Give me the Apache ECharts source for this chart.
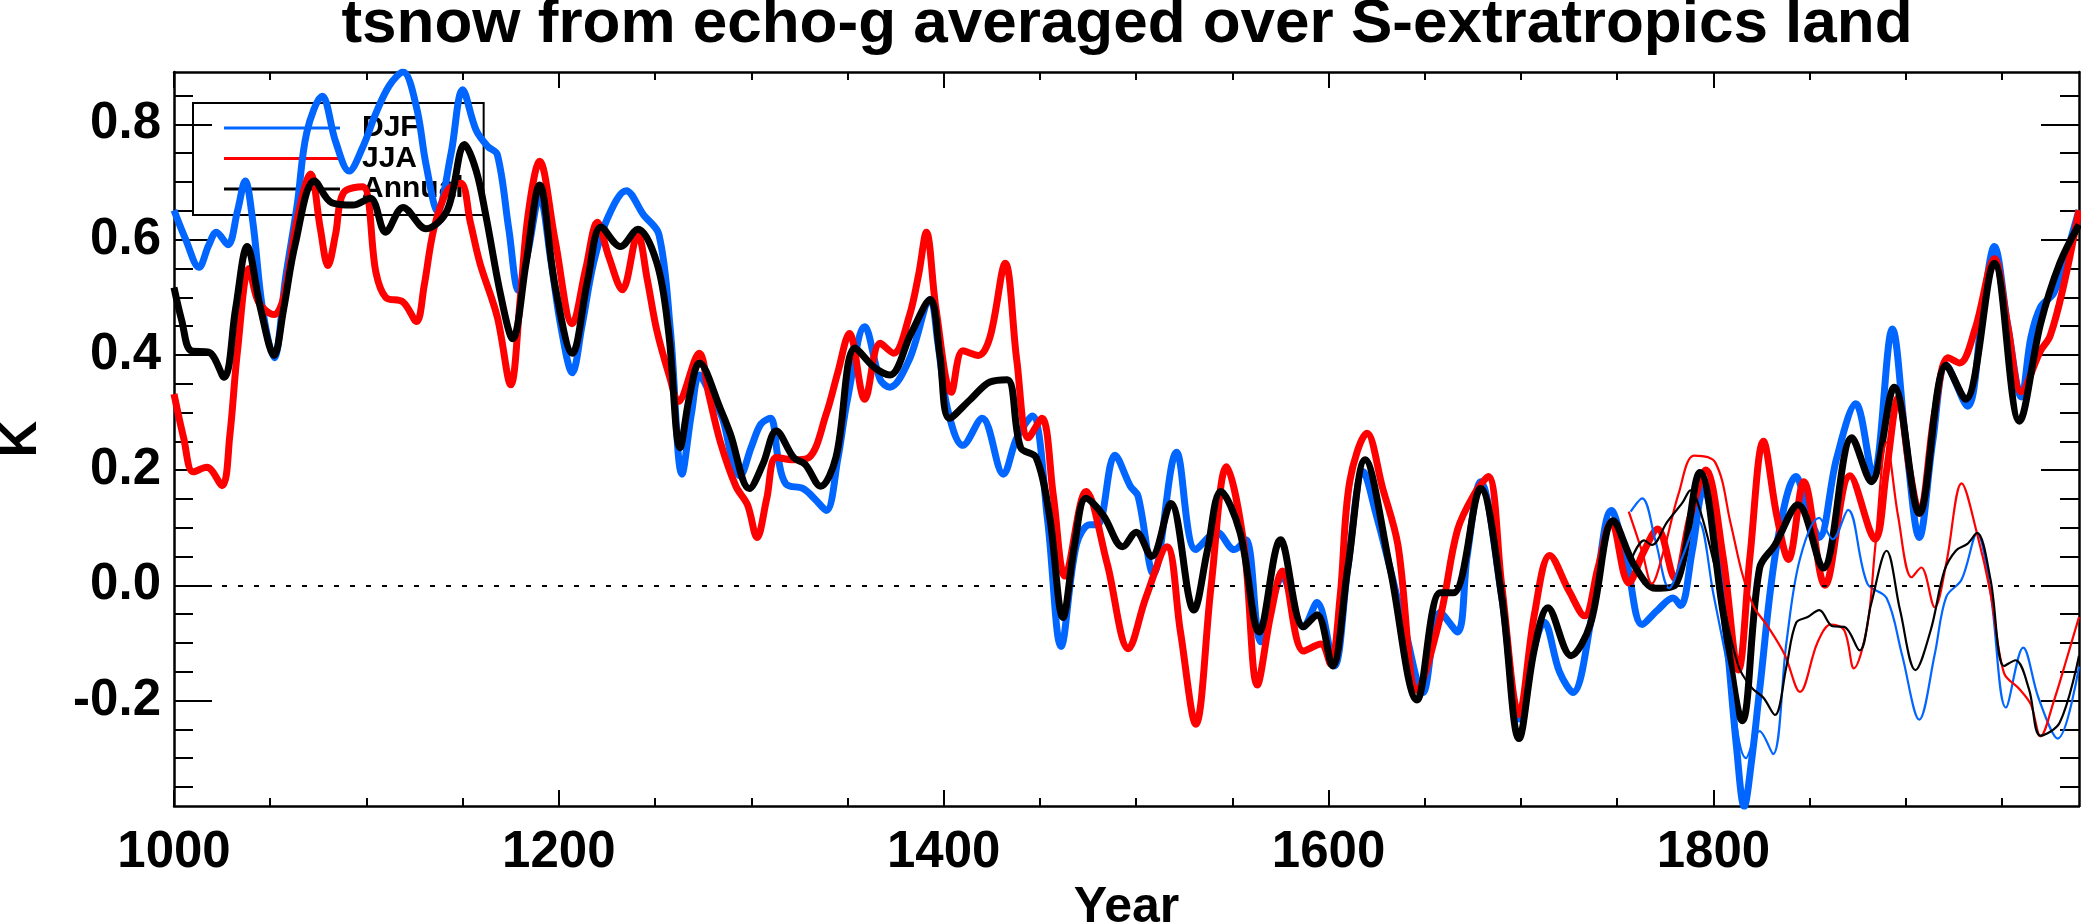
<!DOCTYPE html>
<html>
<head>
<meta charset="utf-8">
<script src="https://cdn.jsdelivr.net/npm/echarts@6/dist/echarts.min.js"></script>
<style>
html,body{margin:0;padding:0;background:#fff;}
#chart{width:2081px;height:924px;}
</style>
</head>
<body>
<div id="chart"></div>
<script>
// ---- data ----
const djfYears = [1000,1006,1013,1018,1022,1028,1033,1037,1041,1046,1052,1058,1064,1069,1077,1084,1091,1098,1105,1112,1119,1126,1131,1137,1144,1150,1157,1163,1168,1174,1179,1184,1190,1196,1201,1207,1212,1218,1225,1235,1244,1252,1258,1264,1269,1273,1279,1285,1290,1294,1300,1305,1310,1314,1318,1327,1333,1339,1345,1350,1359,1367,1372,1382,1393,1397,1402,1410,1420,1431,1438,1446,1454,1461,1469,1476,1480,1489,1497,1501,1509,1521,1531,1542,1551,1557,1565,1576,1587,1594,1603,1610,1618,1625,1632,1640,1649,1658,1667,1672,1679,1690,1699,1706,1712,1720,1727,1737,1747,1755,1763,1771,1779,1783,1789,1795,1800,1807,1812,1816,1820,1824,1833,1843,1849,1855,1864,1874,1883,1893,1900,1907,1914,1921,1932,1940,1946,1953,1960,1965,1970,1977,1983,1990];
const djfValues = [0.651,0.601,0.552,0.59,0.613,0.591,0.65,0.702,0.63,0.48,0.395,0.534,0.66,0.786,0.849,0.77,0.719,0.76,0.82,0.868,0.891,0.83,0.73,0.65,0.75,0.860,0.79,0.762,0.748,0.618,0.512,0.58,0.675,0.56,0.45,0.369,0.45,0.559,0.635,0.685,0.643,0.609,0.441,0.193,0.30,0.365,0.33,0.290,0.22,0.19,0.24,0.28,0.290,0.22,0.176,0.168,0.15,0.130,0.22,0.323,0.449,0.357,0.344,0.391,0.496,0.42,0.306,0.243,0.290,0.193,0.256,0.294,0.113,-0.106,0.071,0.105,0.105,0.226,0.172,0.155,0.020,0.231,0.062,0.092,0.062,0.079,-0.098,0.012,-0.072,-0.030,-0.140,0.03,0.197,0.12,0.029,-0.08,-0.186,-0.047,-0.081,0.05,0.180,-0.02,-0.232,-0.12,-0.064,-0.15,-0.186,-0.05,0.130,0.04,-0.068,-0.043,-0.022,-0.035,0.06,0.168,0.105,-0.098,-0.28,-0.384,-0.30,-0.182,0.071,0.189,0.13,0.083,0.22,0.315,0.189,0.445,0.25,0.083,0.25,0.382,0.311,0.48,0.588,0.45,0.327,0.43,0.483,0.508,0.57,0.651];

const jjaYears = [1000,1005,1010,1017,1025,1029,1033,1039,1044,1052,1057,1064,1071,1076,1080,1084,1088,1098,1105,1110,1119,1126,1130,1135,1142,1149,1154,1159,1168,1175,1180,1184,1190,1198,1207,1214,1220,1226,1233,1241,1246,1251,1258,1262,1273,1278,1284,1292,1298,1303,1308,1313,1322,1330,1339,1345,1351,1359,1367,1374,1382,1387,1391,1396,1404,1410,1418,1424,1432,1438,1444,1451,1457,1463,1474,1485,1496,1505,1516,1523,1531,1539,1547,1556,1563,1570,1576,1587,1596,1601,1606,1611,1620,1628,1636,1646,1658,1667,1676,1683,1690,1699,1707,1715,1725,1733,1740,1747,1756,1764,1771,1780,1788,1796,1805,1813,1819,1826,1833,1839,1847,1858,1871,1884,1890,1896,1902,1907,1915,1922,1928,1936,1946,1953,1960,1970,1975,1982,1990];
const jjaValues = [0.332,0.256,0.197,0.205,0.173,0.26,0.407,0.550,0.491,0.470,0.50,0.635,0.714,0.62,0.555,0.61,0.681,0.692,0.542,0.500,0.492,0.458,0.52,0.618,0.685,0.698,0.63,0.559,0.466,0.348,0.50,0.643,0.736,0.60,0.454,0.55,0.630,0.57,0.513,0.609,0.53,0.441,0.357,0.319,0.403,0.33,0.248,0.172,0.14,0.083,0.15,0.222,0.218,0.222,0.298,0.37,0.437,0.323,0.420,0.403,0.466,0.54,0.613,0.48,0.335,0.407,0.399,0.43,0.559,0.390,0.256,0.290,0.155,0.016,0.163,0.037,-0.110,-0.022,0.067,-0.08,-0.241,0.0,0.206,0.071,-0.173,-0.05,0.025,-0.114,-0.102,-0.136,-0.02,0.18,0.264,0.17,0.071,-0.182,-0.056,0.096,0.16,0.189,0.0,-0.224,-0.05,0.052,-0.01,-0.053,0.03,0.11,0.004,0.06,0.098,0.012,0.12,0.2,0.05,-0.147,0.05,0.25,0.12,0.045,0.18,0.0,0.19,0.08,0.2,0.325,0.2,0.125,0.3,0.395,0.386,0.445,0.567,0.45,0.336,0.407,0.433,0.52,0.651];

const annYears = [1000,1004,1009,1018,1026,1032,1038,1045,1052,1057,1063,1073,1082,1093,1102,1110,1119,1131,1142,1151,1157,1162,1170,1176,1183,1190,1198,1207,1215,1222,1232,1241,1251,1257,1263,1268,1273,1284,1289,1299,1306,1313,1322,1328,1336,1344,1354,1364,1372,1383,1393,1398,1403,1414,1424,1433,1440,1448,1455,1462,1468,1474,1483,1493,1500,1508,1518,1530,1537,1544,1554,1564,1575,1587,1594,1602,1610,1619,1632,1646,1658,1665,1679,1690,1699,1707,1714,1726,1736,1748,1759,1770,1780,1793,1805,1815,1824,1832,1844,1857,1872,1882,1894,1907,1921,1931,1946,1959,1970,1980,1990];
const annValues = [0.517,0.46,0.407,0.405,0.361,0.48,0.588,0.48,0.399,0.48,0.592,0.702,0.664,0.660,0.672,0.613,0.656,0.619,0.651,0.765,0.72,0.643,0.50,0.428,0.56,0.695,0.52,0.403,0.53,0.622,0.588,0.618,0.559,0.441,0.239,0.33,0.386,0.306,0.264,0.168,0.21,0.268,0.222,0.210,0.172,0.222,0.412,0.378,0.365,0.437,0.496,0.40,0.290,0.323,0.353,0.357,0.239,0.222,0.12,-0.056,0.07,0.151,0.121,0.067,0.092,0.050,0.142,-0.043,0.06,0.163,0.092,-0.081,0.079,-0.072,-0.051,-0.140,0.03,0.218,0.029,-0.199,-0.013,-0.013,0.168,-0.02,-0.266,-0.11,-0.039,-0.122,-0.068,0.112,0.034,-0.005,0.0,0.196,-0.046,-0.235,0.03,0.07,0.14,0.03,0.256,0.180,0.344,0.125,0.382,0.323,0.559,0.285,0.454,0.559,0.626];

// second (thin) set, starting mid-18th century
const djf2Years = [1757,1763,1770,1777,1784,1792,1800,1808,1817,1824,1831,1838,1845,1855,1862,1870,1880,1890,1898,1907,1915,1921,1929,1937,1944,1952,1961,1969,1979,1990];
const djf2Values = [0.128,0.151,0.076,-0.005,0.05,0.113,-0.015,-0.15,-0.30,-0.253,-0.293,-0.098,0.046,0.117,0.08,0.131,0.003,-0.022,-0.12,-0.233,-0.12,-0.02,0.01,0.09,-0.013,-0.212,-0.108,-0.196,-0.266,-0.141];

const jja2Years = [1756,1763,1768,1774,1782,1790,1801,1809,1815,1821,1828,1837,1845,1854,1861,1868,1873,1880,1884,1890,1896,1903,1908,1915,1921,1929,1937,1944,1951,1959,1965,1970,1977,1984,1990];
const jja2Values = [0.128,0.058,0.003,0.058,0.16,0.225,0.213,0.107,0.02,-0.037,-0.07,-0.12,-0.185,-0.1,-0.068,-0.078,-0.144,-0.07,0.063,0.248,0.12,0.014,0.031,-0.038,0.038,0.177,0.09,-0.013,-0.152,-0.18,-0.207,-0.262,-0.2,-0.123,-0.055];

const ann2Years = [1758,1764,1768,1776,1784,1788,1794,1803,1813,1820,1826,1832,1838,1843,1849,1855,1862,1868,1876,1882,1890,1897,1905,1913,1920,1926,1932,1937,1944,1951,1957,1964,1970,1980,1990];
const ann2Values = [0.05,0.078,0.07,0.11,0.144,0.165,0.12,0.0,-0.14,-0.178,-0.195,-0.225,-0.14,-0.065,-0.055,-0.043,-0.071,-0.072,-0.113,-0.032,0.06,-0.043,-0.147,-0.077,0.025,0.06,0.072,0.091,0.01,-0.14,-0.13,-0.18,-0.261,-0.238,-0.122];

// axes / ticks
const xMajorTicks = [1000,1200,1400,1600,1800];
const xMinorTicks = [1050,1100,1150,1250,1300,1350,1450,1500,1550,1650,1700,1750,1850,1900,1950];
const yMajorTicks = [-0.2,0.0,0.2,0.4,0.6,0.8];
const yMinorTicks = [-0.35,-0.3,-0.25,-0.15,-0.1,-0.05,0.05,0.1,0.15,0.25,0.3,0.35,0.45,0.5,0.55,0.65,0.7,0.75,0.85];

const titleText = 'tsnow from echo-g averaged over S-extratropics land';

// ---- build ----
const zip = (xs, ys) => xs.map((x, i) => [x, ys[i]]);
const FONT = "'Liberation Sans', Arial, Helvetica, sans-serif";
const XMIN = 1000, XMAX = 1990, YMIN = -0.383, YMAX = 0.891;

function xAx(pos, ticks, len, labels, extra) {
  return Object.assign({
    type: 'value', min: XMIN, max: XMAX, position: pos, gridIndex: 0,
    axisLine: { show: false, onZero: false },
    axisTick: { show: true, inside: true, length: len, customValues: ticks, lineStyle: { color: '#000', width: 2 } },
    axisLabel: labels ? { show: true, customValues: labels, margin: 21, color: '#000', fontSize: 51, fontWeight: 'bold', fontFamily: FONT, formatter: v => String(v) } : { show: false },
    splitLine: { show: false }
  }, extra || {});
}
function yAx(pos, ticks, len, labels, extra) {
  return Object.assign({
    type: 'value', min: YMIN, max: YMAX, position: pos, gridIndex: 0,
    axisLine: { show: false, onZero: false },
    axisTick: { show: true, inside: true, length: len, customValues: ticks, lineStyle: { color: '#000', width: 2 } },
    axisLabel: labels ? { show: true, customValues: labels, margin: 13, color: '#000', fontSize: 51, fontWeight: 'bold', fontFamily: FONT, formatter: v => (Math.abs(v) < 1e-9 ? 0 : v).toFixed(1) } : { show: false },
    splitLine: { show: false }
  }, extra || {});
}

const axisLineStyle = { show: true, onZero: false, lineStyle: { color: '#000', width: 2.5 } };

const option = {
  animation: false,
  backgroundColor: '#fff',
  title: {
    text: titleText, left: 1127, top: 0, textAlign: 'center', padding: 0,
    textStyle: { fontSize: 62, fontWeight: 'bold', fontFamily: FONT, color: '#000', lineHeight: 50 }
  },
  legend: {
    data: ['DJF', 'JJA', 'Annual'],
    orient: 'vertical', left: 193, top: 103,
    padding: [10, 20, 11, 31],
    borderColor: '#000', borderWidth: 2,
    icon: 'rect', itemWidth: 116, itemHeight: 3, itemGap: 0.5,
    selectedMode: false, z: 1,
    textStyle: { fontSize: 30, fontWeight: 'bold', fontFamily: FONT, color: '#000', lineHeight: 22, padding: [0, 0, 8, 17] }
  },
  grid: { left: 174, right: 2, top: 72, bottom: 118, containLabel: false, outerBoundsMode: 'none' },
  xAxis: [
    xAx('bottom', xMajorTicks, 16, xMajorTicks, {
      axisLine: axisLineStyle,
      name: 'Year', nameLocation: 'middle', nameGap: 73,
      nameTextStyle: { fontSize: 50, fontWeight: 'bold', fontFamily: FONT, color: '#000' }
    }),
    xAx('bottom', xMinorTicks, 8, null),
    xAx('top', xMajorTicks, 16, null, { axisLine: axisLineStyle }),
    xAx('top', xMinorTicks, 8, null)
  ],
  yAxis: [
    yAx('left', yMajorTicks, 38, yMajorTicks, {
      axisLine: axisLineStyle,
      name: 'K', nameLocation: 'middle', nameGap: 127, nameRotate: 90,
      nameTextStyle: { fontSize: 51, fontWeight: 'bold', fontFamily: FONT, color: '#000' }
    }),
    yAx('left', yMinorTicks, 19, null),
    yAx('right', yMajorTicks, 38, null, { axisLine: axisLineStyle }),
    yAx('right', yMinorTicks, 19, null)
  ],
  series: [
    {
      name: 'DJF', type: 'line', xAxisIndex: 0, yAxisIndex: 0, data: zip(djfYears, djfValues),
      showSymbol: false, symbol: 'none', smooth: 0.35, color: '#0066ff',
      lineStyle: { width: 7, color: '#0066ff' },
      markLine: {
        silent: true, symbol: 'none', label: { show: false },
        lineStyle: { color: '#000', width: 2, type: [5, 11] },
        data: [{ yAxis: 0 }]
      }
    },
    {
      name: 'JJA', type: 'line', xAxisIndex: 0, yAxisIndex: 0, data: zip(jjaYears, jjaValues),
      showSymbol: false, symbol: 'none', smooth: 0.35, color: '#ff0000',
      lineStyle: { width: 7, color: '#ff0000' }
    },
    {
      name: 'Annual', type: 'line', xAxisIndex: 0, yAxisIndex: 0, data: zip(annYears, annValues),
      showSymbol: false, symbol: 'none', smooth: 0.35, color: '#000000',
      lineStyle: { width: 7, color: '#000000' }
    },
    {
      name: 'DJF (run 2)', type: 'line', xAxisIndex: 0, yAxisIndex: 0, data: zip(djf2Years, djf2Values),
      showSymbol: false, symbol: 'none', smooth: 0.35, color: '#0066ff',
      lineStyle: { width: 2.2, color: '#0066ff' }
    },
    {
      name: 'JJA (run 2)', type: 'line', xAxisIndex: 0, yAxisIndex: 0, data: zip(jja2Years, jja2Values),
      showSymbol: false, symbol: 'none', smooth: 0.35, color: '#ff0000',
      lineStyle: { width: 2.2, color: '#ff0000' }
    },
    {
      name: 'Annual (run 2)', type: 'line', xAxisIndex: 0, yAxisIndex: 0, data: zip(ann2Years, ann2Values),
      showSymbol: false, symbol: 'none', smooth: 0.35, color: '#000000',
      lineStyle: { width: 2.2, color: '#000000' }
    }
  ]
};

const chart = echarts.init(document.getElementById('chart'), null, { renderer: 'canvas' });
chart.setOption(option);
</script>
</body>
</html>
